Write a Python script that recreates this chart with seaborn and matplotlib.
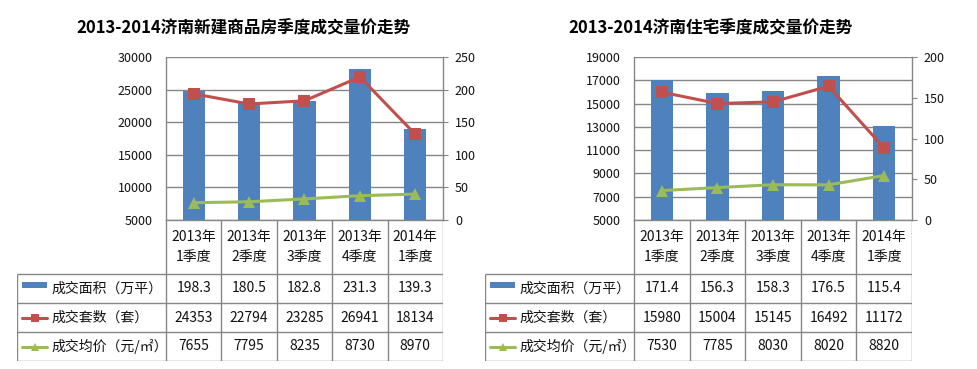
"""
济南季度成交量价走势：柱状（成交面积）+ 折线（套数、均价）+ 下方数据表。
"""

import numpy as np
import pandas as pd
import matplotlib
matplotlib.use("Agg")
import matplotlib.pyplot as plt
import seaborn as sns
from matplotlib.lines import Line2D
from matplotlib.patches import Rectangle

# ---- data ----
quarters = ["2013年\n1季度", "2013年\n2季度", "2013年\n3季度", "2013年\n4季度", "2014年\n1季度"]
row_labels = ["成交面积（万平）", "成交套数（套）", "成交均价（元/㎡）"]

new_title = "2013-2014济南新建商品房季度成交量价走势"
new_area = [198.3, 180.5, 182.8, 231.3, 139.3]
new_units = [24353, 22794, 23285, 26941, 18134]
new_price = [7655, 7795, 8235, 8730, 8970]
new_left_ticks = [5000, 10000, 15000, 20000, 25000, 30000]
new_right_ticks = [0, 50, 100, 150, 200, 250]

res_title = "2013-2014济南住宅季度成交量价走势"
res_area = [171.4, 156.3, 158.3, 176.5, 115.4]
res_units = [15980, 15004, 15145, 16492, 11172]
res_price = [7530, 7785, 8030, 8020, 8820]
res_left_ticks = [5000, 7000, 9000, 11000, 13000, 15000, 17000, 19000]
res_right_ticks = [0, 50, 100, 150, 200]

BLUE = "#4F81BD"
RED = "#C0504D"
GREEN = "#9BBB59"
GRID = "#868686"
TEXT = "#111111"

W, H = 978, 369

sns.set_style("white")
plt.rcParams["font.family"] = ["Noto Sans CJK SC", "DejaVu Sans"]


def px_rect(x0, y0, x1, y1):
    """pixel box (top-left origin) -> figure fraction rect"""
    return [x0 / W, (H - y1) / H, (x1 - x0) / W, (y1 - y0) / H]


def draw_panel(fig, box, tab_left, title, title_x, area, units, price,
               left_ticks, right_ticks):
    x0, y0, x1, y1 = box
    df = pd.DataFrame({"quarter": quarters, "area": area,
                       "units": units, "price": price})
    df["pos"] = df.index

    # base axes: grid + left ticks
    ax = fig.add_axes(px_rect(x0, y0, x1, y1))
    ax.set_ylim(left_ticks[0], left_ticks[-1])
    ax.set_yticks(left_ticks)
    ax.set_yticklabels([str(t) for t in left_ticks])
    ax.grid(axis="y", color=GRID, lw=1.0)
    ax.grid(axis="x", visible=False)
    ax.tick_params(axis="y", length=0, labelsize=9, pad=9.5, labelcolor=TEXT)
    ax.tick_params(axis="x", bottom=False, labelbottom=False)
    ax.spines["top"].set_visible(False)
    for s in ["left", "right", "bottom"]:
        ax.spines[s].set_color(GRID)
        ax.spines[s].set_linewidth(1.0)

    # bars on the secondary (right) axis
    ax_bar = ax.twinx()
    sns.barplot(data=df, x="quarter", y="area", ax=ax_bar, color=BLUE,
                width=0.4, saturation=1, edgecolor="none", linewidth=0)
    ax_bar.set_ylim(right_ticks[0], right_ticks[-1])
    ax_bar.set_yticks(right_ticks)
    ax_bar.tick_params(axis="y", length=3.6, width=0.8, color=GRID,
                       labelsize=9, pad=5, labelcolor=TEXT)
    ax_bar.tick_params(axis="x", bottom=False, labelbottom=False)
    ax_bar.set_xlabel("")
    ax_bar.set_ylabel("")
    for s in ax_bar.spines.values():
        s.set_visible(False)

    # lines on the primary scale
    ax_line = ax.twinx()
    sns.lineplot(data=df, x="pos", y="units", ax=ax_line, color=RED,
                 marker="s", markersize=8, markeredgewidth=0, linewidth=2.2)
    sns.lineplot(data=df, x="pos", y="price", ax=ax_line, color=GREEN,
                 marker="^", markersize=8, markeredgewidth=0, linewidth=2.2)
    ax_line.set_ylim(left_ticks[0], left_ticks[-1])
    ax_line.set_yticks([])
    ax_line.set_xlabel("")
    ax_line.set_ylabel("")
    ax_line.tick_params(axis="x", bottom=False, labelbottom=False)
    for s in ax_line.spines.values():
        s.set_visible(False)

    for a in (ax, ax_bar, ax_line):
        a.set_xlim(-0.5, len(quarters) - 0.5)

    # title
    fig.text(title_x / W, 1 - 28 / H, title, ha="center", va="center",
             fontsize=12, fontweight="bold", color="black")

    # data table
    rows_y = [220, 274, 303, 332, 361]
    tab = fig.add_axes(px_rect(tab_left, rows_y[0], x1, rows_y[-1]))
    tab.set_xlim(tab_left, x1)
    tab.set_ylim(rows_y[-1], rows_y[0])
    tab.axis("off")
    n = len(quarters)
    cw = (x1 - x0) / n
    col_x = [x0 + i * cw for i in range(n + 1)]
    lk = dict(color=GRID, lw=1.0, solid_capstyle="butt")
    for cx in col_x:
        tab.plot([cx, cx], [rows_y[0], rows_y[-1]], **lk)
    tab.plot([tab_left, tab_left], [rows_y[1], rows_y[-1]], **lk)
    for ry in rows_y[1:]:
        tab.plot([tab_left, x1], [ry, ry], **lk)

    for i, q in enumerate(quarters):
        tab.text(col_x[i] + cw / 2, (rows_y[0] + rows_y[1]) / 2, q,
                 ha="center", va="center", fontsize=10, linespacing=1.6,
                 color=TEXT)

    values = [[f"{v:.1f}" for v in area],
              [f"{v:d}" for v in units],
              [f"{v:d}" for v in price]]
    for r, (label, vals) in enumerate(zip(row_labels, values)):
        cy = (rows_y[r + 1] + rows_y[r + 2]) / 2
        # legend key
        kx0, kx1 = tab_left + 5, tab_left + 30
        if r == 0:
            tab.add_patch(Rectangle((kx0, cy - 7), kx1 - kx0, 6.5,
                                    color=BLUE, lw=0))
        else:
            c = RED if r == 1 else GREEN
            m = "s" if r == 1 else "^"
            tab.add_line(Line2D([kx0, kx1], [cy, cy], color=c, lw=2.2))
            tab.add_line(Line2D([(kx0 + kx1) / 2], [cy], color=c, marker=m,
                                markersize=6, markeredgewidth=0))
        tab.text(tab_left + 34, cy, label, ha="left", va="center",
                 fontsize=10, color=TEXT)
        for i, v in enumerate(vals):
            tab.text(col_x[i] + cw / 2, cy, v, ha="center", va="center",
                     fontsize=10, color=TEXT)


fig = plt.figure(figsize=(W / 100, H / 100), dpi=100)
fig.patch.set_facecolor("white")

draw_panel(fig, (166, 57, 443, 220), 17, new_title, 243,
           new_area, new_units, new_price, new_left_ticks, new_right_ticks)
draw_panel(fig, (634, 57, 912, 220), 485, res_title, 711,
           res_area, res_units, res_price, res_left_ticks, res_right_ticks)

fig.savefig("out.png", dpi=100)
